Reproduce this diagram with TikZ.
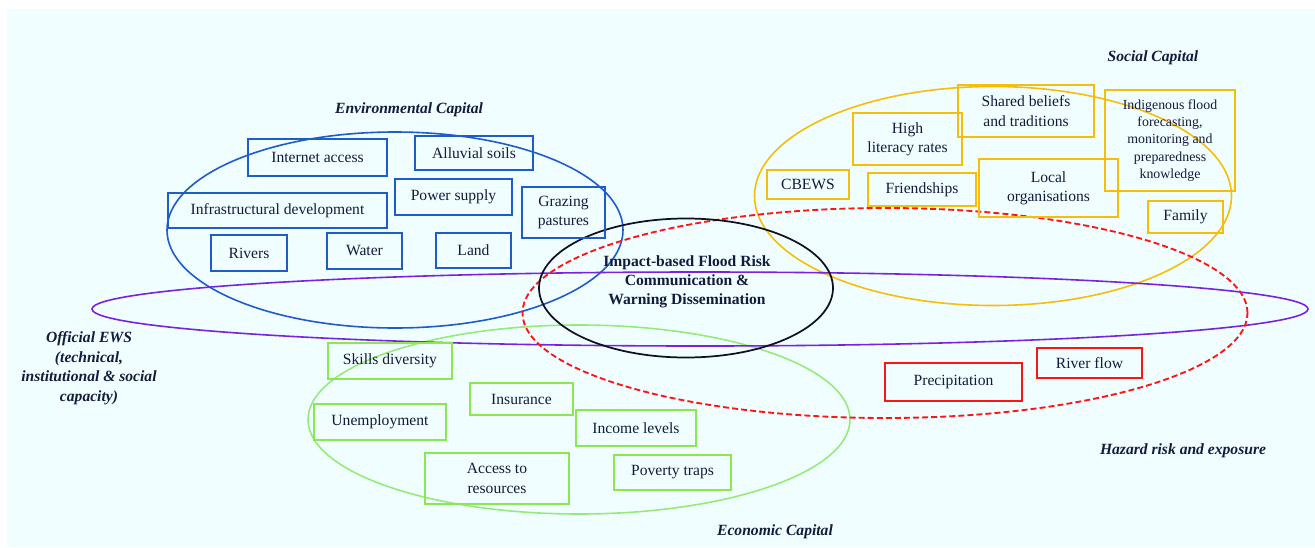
\documentclass[tikz,border=0pt]{standalone}
\usepackage{fontspec}
\setmainfont{Liberation Serif}
\usetikzlibrary{shapes.geometric}
\definecolor{bgc}{RGB}{241,254,255}
\definecolor{txt}{RGB}{20,26,62}
\definecolor{envc}{RGB}{30,92,200}
\definecolor{socc}{RGB}{245,190,10}
\definecolor{ecoc}{RGB}{140,232,80}
\definecolor{ecoe}{RGB}{150,235,120}
\definecolor{hazc}{RGB}{255,20,20}
\definecolor{ewsc}{RGB}{120,35,225}
\definecolor{corec}{RGB}{15,15,35}
\tikzset{
  fbox/.style={draw, line width=1.5pt, inner sep=0pt, align=center, text=txt,
    font=\fontsize{11.7pt}{14.6pt}\selectfont},
  envbox/.style={fbox, draw=envc},
  socbox/.style={fbox, draw=socc},
  ecobox/.style={fbox, draw=ecoc},
  hazbox/.style={fbox, draw=hazc},
  ring/.style={ellipse, inner sep=0pt, line width=1.2pt},
  grplabel/.style={align=center, text=txt, font=\fontsize{11.7pt}{14.6pt}\selectfont\bfseries\itshape}
}
\begin{document}
\begin{tikzpicture}[x=0.75pt,y=-0.75pt]
\useasboundingbox (0,0) rectangle (1315,547);
\fill[white] (0,0) rectangle (1315,547);
\fill[bgc] (7,9) rectangle (1315,547);

% ellipses
\node[ring, draw=envc, minimum width=456*0.75pt, minimum height=196*0.75pt] (envE) at (395,230) {};
\node[ring, draw=socc, minimum width=477*0.75pt, minimum height=219*0.75pt] (socE) at (993,196) {};
\node[ring, draw=ecoe, minimum width=542*0.75pt, minimum height=189*0.75pt] (ecoE) at (579,419.5) {};
\node[ring, draw=ewsc, minimum width=1216*0.75pt, minimum height=74*0.75pt] (ewsE) at (700,309) {};
\node[ring, draw=hazc, line width=1.4pt, dash pattern=on 4.5pt off 2.3pt, minimum width=725*0.75pt, minimum height=210*0.75pt] (hazE) at (885,313) {};
\node[ring, draw=corec, line width=1.3pt, minimum width=294*0.75pt, minimum height=139*0.75pt] (coreE) at (686,288) {};

% core text
\node[align=center, text=txt, font=\fontsize{11.7pt}{14.3pt}\selectfont\bfseries] (core) at (687,282)
  {Impact-based Flood Risk\\Communication \&\\Warning Dissemination};

% environmental boxes
\node[envbox, minimum width=139*0.75pt, minimum height=37*0.75pt] (inet) at (317.5,157.5) {Internet access};
\node[envbox, minimum width=118*0.75pt, minimum height=34*0.75pt] (alluv) at (474,153) {Alluvial soils};
\node[envbox, minimum width=219*0.75pt, minimum height=35*0.75pt] (infra) at (277.5,210.5) {Infrastructural development};
\node[envbox, minimum width=117*0.75pt, minimum height=36*0.75pt] (power) at (453.5,197) {Power supply};
\node[envbox, minimum width=83*0.75pt, minimum height=51*0.75pt] (graz) at (563.5,212.5) {Grazing\\pastures};
\node[envbox, minimum width=76*0.75pt, minimum height=36*0.75pt] (rivers) at (249,253) {Rivers};
\node[envbox, minimum width=75*0.75pt, minimum height=36*0.75pt] (water) at (364.5,251) {Water};
\node[envbox, minimum width=75*0.75pt, minimum height=35*0.75pt] (land) at (473.5,250.5) {Land};

% social boxes
\node[socbox, minimum width=136*0.75pt, minimum height=52*0.75pt] (shared) at (1026,111) {Shared beliefs\\and traditions};
\node[socbox, minimum width=109*0.75pt, minimum height=52*0.75pt] (lit) at (907.5,139) {High\\literacy rates};
\node[socbox, minimum width=130*0.75pt, minimum height=101*0.75pt, font=\fontsize{10.4pt}{13pt}\selectfont] (indig) at (1170,140.5) {Indigenous flood\\forecasting,\\monitoring and\\preparedness\\knowledge};
\node[socbox, minimum width=82*0.75pt, minimum height=29*0.75pt] (cbews) at (808,184.5) {CBEWS};
\node[socbox, minimum width=108*0.75pt, minimum height=33*0.75pt] (friend) at (922,189.5) {Friendships};
\node[socbox, minimum width=139*0.75pt, minimum height=58*0.75pt] (local) at (1048.5,188) {Local\\organisations};
\node[socbox, minimum width=75*0.75pt, minimum height=32*0.75pt] (family) at (1185.5,217) {Family};

% economic boxes
\node[ecobox, minimum width=124*0.75pt, minimum height=36*0.75pt] (skills) at (390,361) {Skills diversity};
\node[ecobox, minimum width=103*0.75pt, minimum height=32*0.75pt] (insur) at (521.5,399) {Insurance};
\node[ecobox, minimum width=132*0.75pt, minimum height=36*0.75pt] (unemp) at (380,422) {Unemployment};
\node[ecobox, minimum width=120*0.75pt, minimum height=36*0.75pt] (income) at (636,428) {Income levels};
\node[ecobox, minimum width=144*0.75pt, minimum height=51*0.75pt] (access) at (497,478.5) {Access to\\resources};
\node[ecobox, minimum width=117*0.75pt, minimum height=35*0.75pt] (pov) at (672.5,472.5) {Poverty traps};

% hazard boxes
\node[hazbox, minimum width=137*0.75pt, minimum height=38*0.75pt] (precip) at (953.5,382) {Precipitation};
\node[hazbox, minimum width=105*0.75pt, minimum height=30*0.75pt] (rflow) at (1089.5,363) {River flow};

% group labels
\node[grplabel] (envL) at (409,110) {Environmental Capital};
\node[grplabel] (socL) at (1153,58) {Social Capital};
\node[grplabel] (ecoL) at (775,532) {Economic Capital};
\node[grplabel] (hazL) at (1183,451) {Hazard risk and exposure};
\node[grplabel] (ewsL) at (89,368) {Official EWS\\(technical,\\institutional \& social\\capacity)};
\end{tikzpicture}
\end{document}
